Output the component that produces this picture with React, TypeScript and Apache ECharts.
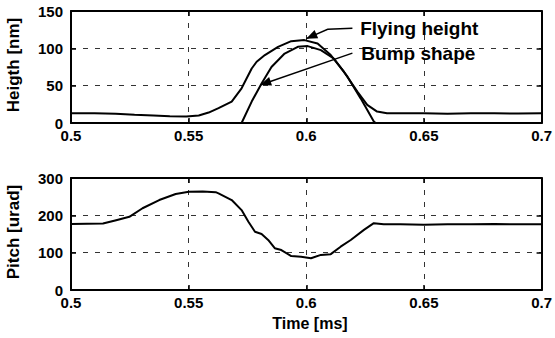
import { useEffect, useRef } from "react";
import * as echarts from "echarts";

// Time axis (ms)
const xTicks = [0.5, 0.55, 0.6, 0.65, 0.7];

// Top panel: flying height and bump shape (nm)
const flyT = [0.5, 0.51, 0.519, 0.527, 0.535, 0.542, 0.549, 0.5543, 0.5585, 0.5627, 0.5683, 0.5725, 0.5768, 0.5789, 0.5824, 0.588, 0.5936, 0.5992, 0.6048, 0.6104, 0.616, 0.6217, 0.6259, 0.6301, 0.6343, 0.64, 0.65, 0.66, 0.67, 0.68, 0.69, 0.7];
const flyH = [13, 13, 12.5, 11, 10, 9, 8.7, 10, 14, 20, 28.7, 46.5, 73, 82, 91, 102, 109.6, 111, 106.5, 91, 68.7, 42, 24.3, 15.3, 13, 13, 13, 12.5, 13, 13, 12.8, 13];

const bumpT = [0.5725, 0.5768, 0.581, 0.5852, 0.5908, 0.5964, 0.6006, 0.6062, 0.6118, 0.6175, 0.6231, 0.6287, 0.6295];
const bumpH = [0, 28.7, 53, 75, 93, 102, 103, 97.6, 86, 62, 33, 2, 0];

// Bottom panel: pitch (urad)
const pitchT = [0.5, 0.5136, 0.5192, 0.5248, 0.5304, 0.5375, 0.5445, 0.5501, 0.556, 0.5615, 0.5627, 0.5683, 0.5725, 0.5754, 0.5782, 0.581, 0.5838, 0.5866, 0.5894, 0.5936, 0.5978, 0.602, 0.6062, 0.6104, 0.6146, 0.6189, 0.6245, 0.6287, 0.6329, 0.64, 0.65, 0.66, 0.67, 0.68, 0.69, 0.7];
const pitch = [177, 178, 187, 196, 219, 241, 257, 263, 264, 262, 259, 241, 214, 183, 156, 150, 134, 112, 107, 91, 89, 85, 94, 96, 116, 134, 161, 179, 176, 176, 175, 176, 176, 177, 176, 176];

const FONT = "'Liberation Sans', Arial, Helvetica, sans-serif";

const pairs = (xs: number[], ys: number[]) => xs.map((x, i) => [x, ys[i]]);

export default function App() {
  const ref = useRef<HTMLDivElement>(null);

  useEffect(() => {
    if (!ref.current) return;
    const chart = echarts.init(ref.current, null, { renderer: "svg" });

    const gridLine = { show: true, lineStyle: { color: "#333", width: 1, type: [5, 7] as any } };
    const axisLine = { show: true, onZero: false, lineStyle: { color: "#000", width: 2 } };
    const tick = { show: true, inside: true, length: 5, lineStyle: { color: "#000", width: 1.5 } };
    const label = { color: "#000", fontFamily: FONT, fontWeight: "bold" as const, fontSize: 15 };

    const mkX = (gridIndex: number) => [
      {
        type: "value", gridIndex, min: 0.5, max: 0.7, interval: 0.05, position: "bottom",
        axisLine, axisTick: tick, splitLine: gridLine,
        axisLabel: { ...label, margin: 5, formatter: (v: number) => String(+v.toFixed(2)) },
      },
      {
        type: "value", gridIndex, min: 0.5, max: 0.7, interval: 0.05, position: "top",
        axisLine, axisTick: tick, splitLine: { show: false }, axisLabel: { show: false },
      },
    ];
    const mkY = (gridIndex: number, max: number, interval: number) => [
      {
        type: "value", gridIndex, min: 0, max, interval, position: "left",
        axisLine, axisTick: tick, splitLine: gridLine,
        axisLabel: { ...label, margin: 8 },
      },
      {
        type: "value", gridIndex, min: 0, max, interval, position: "right",
        axisLine, axisTick: tick, splitLine: { show: false }, axisLabel: { show: false },
      },
    ];

    const lineSeries = (name: string, data: number[][], xAxisIndex: number, yAxisIndex: number) => ({
      name, type: "line", data, xAxisIndex, yAxisIndex, showSymbol: false, symbol: "none",
      lineStyle: { color: "#000", width: 2 }, z: 5,
    });

    chart.setOption({
      animation: false,
      backgroundColor: "#fff",
      grid: [
        { left: 71, top: 11, width: 475, height: 112 },
        { left: 71, top: 178, width: 475, height: 112 },
      ],
      xAxis: [...mkX(0), ...mkX(1)],
      yAxis: [...mkY(0, 150, 50), ...mkY(1, 300, 100)],
      series: [
        lineSeries("Flying height", pairs(flyT, flyH), 0, 0),
        lineSeries("Bump shape", pairs(bumpT, bumpH), 0, 0),
        lineSeries("Pitch", pairs(pitchT, pitch), 2, 2),
      ],
    });

    const px = (t: number, v: number) => chart.convertToPixel({ seriesIndex: 0 }, [t, v]) as number[];
    const arrowHead = (from: number[], tip: number[]) => {
      const dx = tip[0] - from[0];
      const dy = tip[1] - from[1];
      const len = Math.hypot(dx, dy) || 1;
      const ux = dx / len, uy = dy / len;
      const L = 11, W = 4.5;
      const bx = tip[0] - ux * L, by = tip[1] - uy * L;
      return {
        type: "polygon",
        shape: { points: [tip, [bx - uy * W, by + ux * W], [bx + uy * W, by - ux * W]] },
        style: { fill: "#000" }, z: 10,
      };
    };

    const f0 = px(0.6196, 127), f1 = px(0.6091, 125.6), fTip = px(0.6, 113);
    const b0 = px(0.6196, 93.6), bTip = px(0.5804, 51);
    const fText = px(0.6229, 127), bText = px(0.6234, 93.6);

    chart.setOption({
      graphic: [
        { type: "polyline", shape: { points: [f0, f1, fTip] }, style: { stroke: "#000", lineWidth: 1.5, fill: null }, z: 10 },
        arrowHead(f1, fTip),
        { type: "line", shape: { x1: b0[0], y1: b0[1], x2: bTip[0], y2: bTip[1] }, style: { stroke: "#000", lineWidth: 1.5 }, z: 10 },
        arrowHead(b0, bTip),
        { type: "text", x: fText[0], y: fText[1], style: { text: "Flying height", font: `bold 19px ${FONT}`, fill: "#000", textAlign: "left", textVerticalAlign: "middle" }, z: 10 },
        { type: "text", x: bText[0], y: bText[1], style: { text: "Bump shape", font: `bold 19px ${FONT}`, fill: "#000", textAlign: "left", textVerticalAlign: "middle" }, z: 10 },
        { type: "text", x: 13, y: 65, rotation: Math.PI / 2, style: { text: "Heigth [nm]", font: `bold 17px ${FONT}`, fill: "#000", textAlign: "center", textVerticalAlign: "middle" } },
        { type: "text", x: 13, y: 232, rotation: Math.PI / 2, style: { text: "Pitch [urad]", font: `bold 17px ${FONT}`, fill: "#000", textAlign: "center", textVerticalAlign: "middle" } },
        { type: "text", x: 310, y: 323, style: { text: "Time [ms]", font: `bold 16px ${FONT}`, fill: "#000", textAlign: "center", textVerticalAlign: "middle" } },
      ],
    });

    return () => chart.dispose();
  }, []);

  return <div ref={ref} style={{ position: "fixed", left: 0, top: 0, width: 555, height: 338, background: "#fff" }} />;
}
